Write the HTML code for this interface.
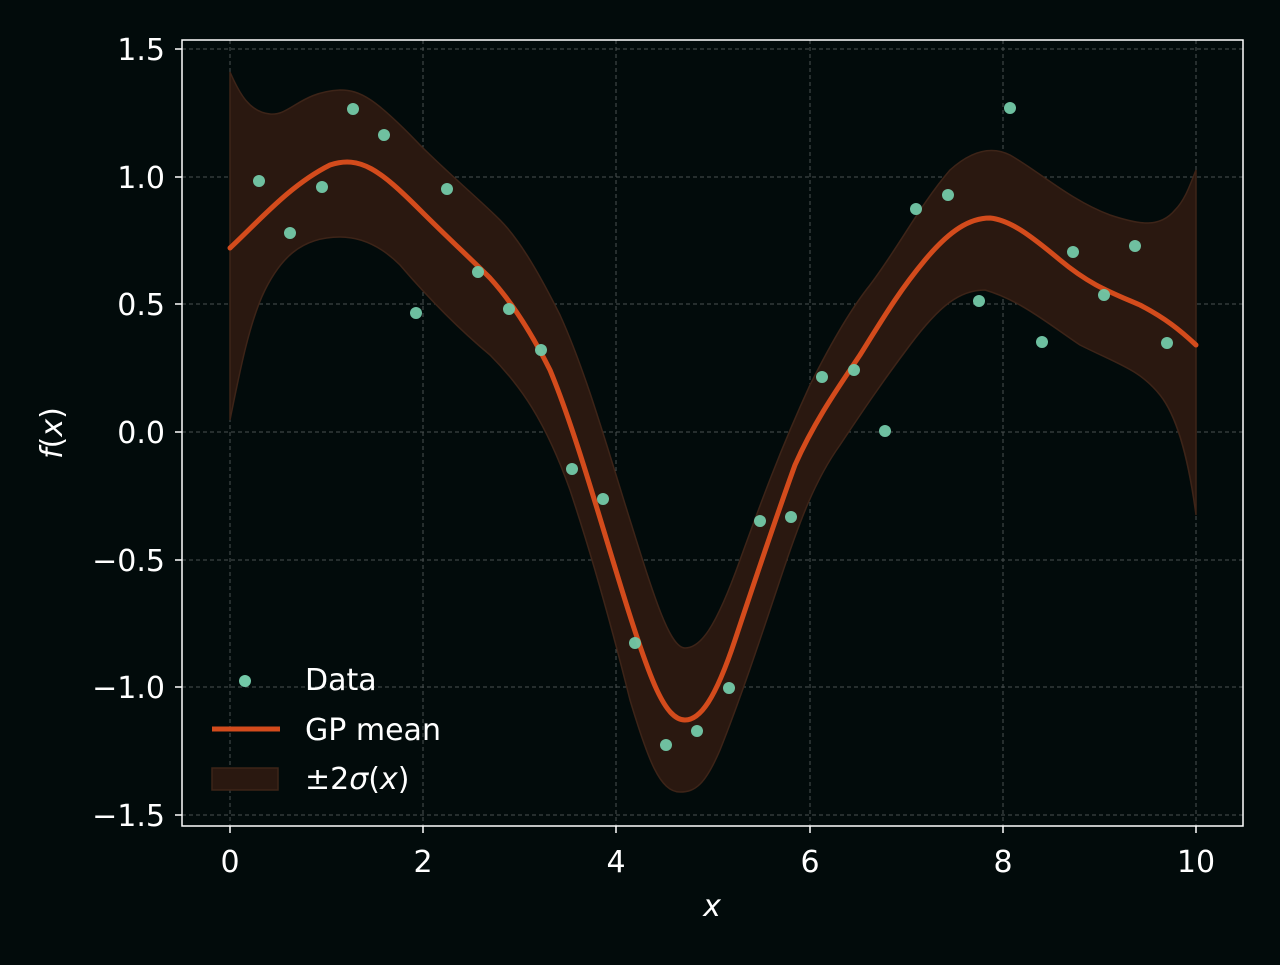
<!DOCTYPE html>
<html><head><meta charset="utf-8"><style>html,body{margin:0;padding:0;background:#020b0b;}</style></head>
<body>
<svg width="1280" height="960" xmlns="http://www.w3.org/2000/svg" font-family="'DejaVu Sans','Liberation Sans',sans-serif">
<rect width="1280" height="960" fill="#020b0b"/>
<g stroke="#6a6f6f" stroke-width="1" stroke-dasharray="4,3" opacity="0.7">
<line x1="230" y1="40" x2="230" y2="826"/><line x1="423" y1="40" x2="423" y2="826"/><line x1="616" y1="40" x2="616" y2="826"/><line x1="810" y1="40" x2="810" y2="826"/><line x1="1003" y1="40" x2="1003" y2="826"/><line x1="1196" y1="40" x2="1196" y2="826"/>
<line x1="182" y1="49" x2="1243" y2="49"/><line x1="182" y1="177" x2="1243" y2="177"/><line x1="182" y1="304" x2="1243" y2="304"/><line x1="182" y1="432" x2="1243" y2="432"/><line x1="182" y1="560" x2="1243" y2="560"/><line x1="182" y1="687" x2="1243" y2="687"/><line x1="182" y1="815" x2="1243" y2="815"/>
</g>
<path fill="#2a1810" stroke="#3d2418" stroke-width="1.5" d="M230,72 C240,95 250,112 270,114 C290,116 300,92 340,90 C360,90 375,98 420,145 C450,175 480,200 500,220 C520,240 540,275 560,315 C585,370 605,440 630,520 C655,600 670,648 685,648 C700,648 715,630 740,560 C760,505 780,450 810,385 C830,345 850,310 870,285 C900,245 920,205 950,170 C970,152 990,145 1010,155 C1040,172 1070,200 1110,215 C1140,225 1160,228 1175,210 C1185,200 1190,185 1196,170 L1196,515 C1190,470 1180,420 1160,395 C1140,370 1120,365 1080,345 C1050,325 1020,300 985,290 C960,290 940,305 910,345 C880,385 860,415 840,445 C815,480 800,520 780,580 C760,640 740,700 720,750 C705,785 695,792 680,792 C660,792 648,760 630,700 C610,620 590,550 570,490 C545,420 520,385 490,355 C460,330 430,300 400,265 C380,245 360,237 340,237 C300,237 280,260 265,290 C250,320 240,370 230,420 Z"/>
<path fill="none" stroke="#d34b1c" stroke-width="5" stroke-linecap="round" d="M230,248 C260,220 290,185 330,165 C360,155 380,170 420,210 C450,240 470,258 490,278 C510,300 530,330 550,370 C575,430 600,520 625,600 C650,680 665,720 685,720 C700,720 715,700 735,640 C755,580 775,520 795,465 C815,420 840,385 860,355 C885,315 900,290 925,260 C950,230 970,218 990,218 C1010,220 1030,235 1060,260 C1090,285 1110,292 1140,305 C1165,318 1180,330 1196,345"/>
<g fill="#73c9a8" opacity="0.95">
<circle cx="259" cy="181" r="6"/><circle cx="290" cy="233" r="6"/><circle cx="322" cy="187" r="6"/><circle cx="353" cy="109" r="6"/><circle cx="384" cy="135" r="6"/><circle cx="416" cy="313" r="6"/><circle cx="447" cy="189" r="6"/><circle cx="478" cy="272" r="6"/><circle cx="509" cy="309" r="6"/><circle cx="541" cy="350" r="6"/><circle cx="572" cy="469" r="6"/><circle cx="603" cy="499" r="6"/><circle cx="635" cy="643" r="6"/><circle cx="666" cy="745" r="6"/><circle cx="697" cy="731" r="6"/><circle cx="729" cy="688" r="6"/><circle cx="760" cy="521" r="6"/><circle cx="791" cy="517" r="6"/><circle cx="822" cy="377" r="6"/><circle cx="854" cy="370" r="6"/><circle cx="885" cy="431" r="6"/><circle cx="916" cy="209" r="6"/><circle cx="948" cy="195" r="6"/><circle cx="979" cy="301" r="6"/><circle cx="1010" cy="108" r="6"/><circle cx="1042" cy="342" r="6"/><circle cx="1073" cy="252" r="6"/><circle cx="1104" cy="295" r="6"/><circle cx="1135" cy="246" r="6"/><circle cx="1167" cy="343" r="6"/>
</g>
<rect x="182" y="40" width="1061" height="786" fill="none" stroke="#ffffff" stroke-width="1.5"/>
<g stroke="#fff" stroke-width="1.5">
<line x1="230" y1="826" x2="230" y2="833"/><line x1="423" y1="826" x2="423" y2="833"/><line x1="616" y1="826" x2="616" y2="833"/><line x1="810" y1="826" x2="810" y2="833"/><line x1="1003" y1="826" x2="1003" y2="833"/><line x1="1196" y1="826" x2="1196" y2="833"/>
<line x1="175" y1="49" x2="182" y2="49"/><line x1="175" y1="177" x2="182" y2="177"/><line x1="175" y1="304" x2="182" y2="304"/><line x1="175" y1="432" x2="182" y2="432"/><line x1="175" y1="560" x2="182" y2="560"/><line x1="175" y1="687" x2="182" y2="687"/><line x1="175" y1="815" x2="182" y2="815"/>
</g>
<g fill="#fff" font-size="30" text-anchor="middle">
<text x="230" y="872">0</text><text x="423" y="872">2</text><text x="616" y="872">4</text><text x="810" y="872">6</text><text x="1003" y="872">8</text><text x="1196" y="872">10</text>
</g>
<g fill="#fff" font-size="30" text-anchor="end">
<text x="165" y="60">1.5</text><text x="165" y="188">1.0</text><text x="165" y="315">0.5</text><text x="165" y="443">0.0</text><text x="165" y="571">−0.5</text><text x="165" y="698">−1.0</text><text x="165" y="826">−1.5</text>
</g>
<text x="712" y="916" fill="#fff" font-size="30" font-style="italic" text-anchor="middle">x</text>
<text transform="translate(62,433) rotate(-90)" fill="#fff" font-size="30" text-anchor="middle"><tspan font-style="italic">f</tspan>(<tspan font-style="italic">x</tspan>)</text>
<circle cx="245" cy="681" r="6" fill="#73c9a8"/>
<text x="305" y="690" fill="#fff" font-size="30">Data</text>
<line x1="212" y1="729" x2="280" y2="729" stroke="#d34b1c" stroke-width="5"/>
<text x="305" y="740" fill="#fff" font-size="30">GP mean</text>
<rect x="212" y="768" width="66" height="22" fill="#2a1810" stroke="#3d2418" stroke-width="1.5"/>
<text x="305" y="789" fill="#fff" font-size="30">±2<tspan font-style="italic">σ</tspan>(<tspan font-style="italic">x</tspan>)</text>
</svg>
</body></html>
